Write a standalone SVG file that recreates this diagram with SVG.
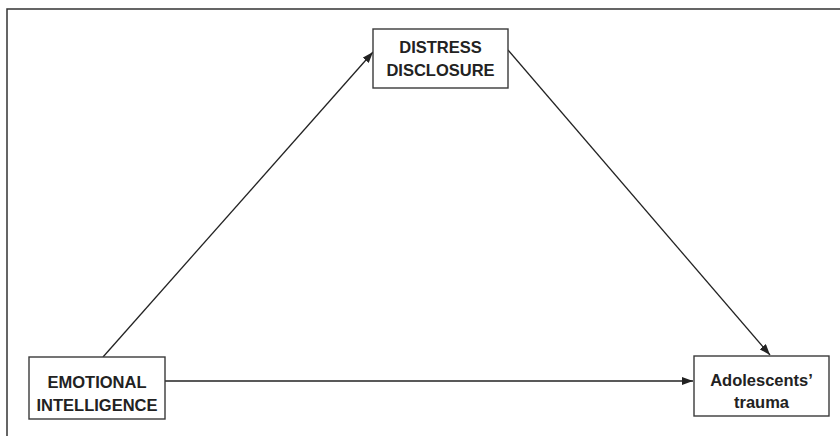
<svg xmlns="http://www.w3.org/2000/svg" width="840" height="436" viewBox="0 0 840 436">
<style>
.box{fill:#fff;stroke:#3a3a3a;stroke-width:1.4}
.lbl{font-family:"Liberation Sans",Arial,sans-serif;font-weight:bold;font-size:16.5px;fill:#222;text-anchor:middle}
.con{stroke:#222;stroke-width:1.3;fill:none}
</style>
<defs>
<marker id="ah" viewBox="0 0 11 8" refX="11" refY="4" markerWidth="11" markerHeight="8" markerUnits="userSpaceOnUse" orient="auto">
<path d="M0,0 L11,4 L0,8 Z" fill="#222"/>
</marker>
</defs>
<rect width="840" height="436" fill="#fff"/>
<rect x="7" y="9" width="840" height="440" fill="none" stroke="#333" stroke-width="1.5"/>
<g id="connectors">
<line class="con" x1="103" y1="357" x2="373" y2="52" marker-end="url(#ah)"/>
<line class="con" x1="508" y1="50" x2="770" y2="355" marker-end="url(#ah)"/>
<line class="con" x1="165" y1="381" x2="693" y2="381" marker-end="url(#ah)"/>
</g>
<g id="distress">
<rect class="box" x="373" y="29" width="135" height="59"/>
<text class="lbl" x="440.5" y="53">DISTRESS</text>
<text class="lbl" x="440.5" y="75.5">DISCLOSURE</text>
</g>
<g id="emotional">
<rect class="box" x="29" y="357" width="136" height="62"/>
<text class="lbl" x="97" y="388">EMOTIONAL</text>
<text class="lbl" x="97" y="411">INTELLIGENCE</text>
</g>
<g id="trauma">
<rect class="box" x="694" y="356" width="135" height="60"/>
<text class="lbl" x="761.5" y="386">Adolescents’</text>
<text class="lbl" x="761.5" y="408">trauma</text>
</g>
</svg>
